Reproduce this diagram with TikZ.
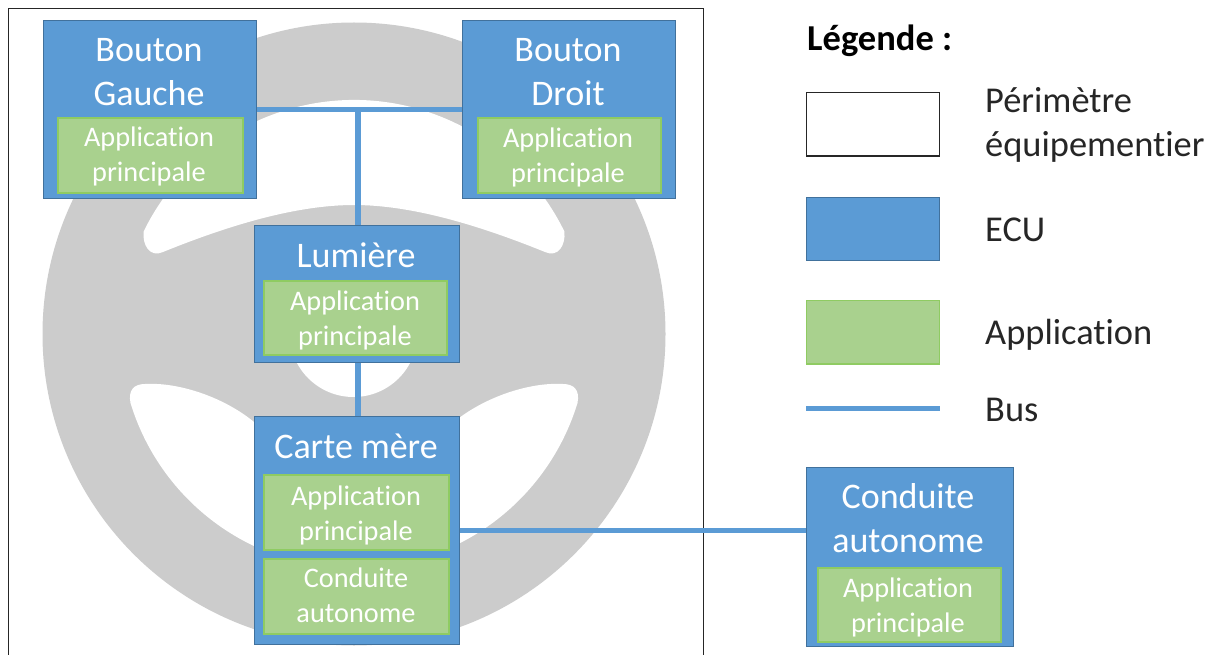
\documentclass[tikz,border=0pt]{standalone}
\usepackage{fontspec}
\setmainfont{Carlito}[Ligatures=NoCommon]
\definecolor{ecublue}{HTML}{5B9BD5}
\definecolor{ecuedge}{HTML}{41719C}
\definecolor{appgreen}{HTML}{A9D18E}
\definecolor{appedge}{HTML}{8FCB62}
\definecolor{wheelgrey}{HTML}{CCCCCC}
\tikzset{
  ecubox/.style={draw=ecuedge,fill=ecublue,line width=1pt,inner sep=0pt},
  appbox/.style={draw=appedge,fill=appgreen,line width=1.4pt,inner sep=0pt},
  apptext/.style={text=white,align=center,inner sep=0pt,font=\fontsize{28.3}{35}\selectfont},
  ecutext/.style={text=white,align=center,inner sep=0pt,font=\fontsize{36}{43.5}\selectfont},
  legtext/.style={anchor=west,align=left,inner sep=0pt,text=black!85,font=\fontsize{36.4}{44}\selectfont},
  bus/.style={draw=ecublue,line width=5.2pt},
  hole/.style={fill=white,draw=none},
}
\begin{document}
\begin{tikzpicture}[x=1pt,y=-1pt]
\useasboundingbox (0,0) rectangle (1218,655);
\fill[white] (0,0) rectangle (1218,655);
\begin{scope}
\clip (0,0) rectangle (1218,655);
% frame
\draw[black!85,line width=1.5pt,fill=white] (8.5,670) -- (8.5,8.5) -- (703.5,8.5) -- (703.5,670);
% steering wheel
\fill[wheelgrey] (354,334) circle[radius=311.5];
\fill[hole] (143.7,231.4) arc[start angle=206,end angle=334,radius=234]
  .. controls (566,245) and (558,258) .. (545,252)
  .. controls (476,224) and (410,205) .. (354,205)
  .. controls (298,205) and (232,224) .. (163,252)
  .. controls (150,258) and (142,245) .. cycle;
\fill[hole] (353.5,333) circle[radius=64];
\fill[hole] (130.5,403) arc[start angle=163,end angle=113,radius=234]
  -- (262.6,430) -- (254,422)
  .. controls (225,398) and (180,382) .. (145,384)
  .. controls (134,384) and (128,390) .. cycle;
\fill[hole] (577.5,403) arc[start angle=17,end angle=67,radius=234]
  -- (445.4,430) -- (454,422)
  .. controls (483,398) and (528,382) .. (563,384)
  .. controls (574,384) and (580,390) .. cycle;
\end{scope}
% ECUs
\node[ecubox,minimum width=213.5pt,minimum height=177.5pt] (bg) at (150,109.7) {};
\node[ecubox,minimum width=213.5pt,minimum height=177.5pt] (bd) at (569,109.7) {};
\node[ecubox,minimum width=205pt,minimum height=136.5pt] (lum) at (356.5,294) {};
\node[ecubox,minimum width=205pt,minimum height=227.5pt] (cm) at (356.5,530.3) {};
\node[ecubox,minimum width=207pt,minimum height=178.5pt] (ca) at (909.5,557) {};
% ECU titles
\node[ecutext] (tbg) at (149,72) {Bouton\\Gauche};
\node[ecutext] (tbd) at (568,72) {Bouton\\Droit};
\node[ecutext] (tlum) at (356,255.5) {Lumière};
\node[ecutext] (tcm) at (356,446) {Carte mère};
\node[ecutext] (tca) at (908,518) {Conduite\\autonome};
% applications
\node[appbox,minimum width=185pt,minimum height=75pt] (abg) at (150.5,155.5) {};
\node[apptext] (xbg) at (149,156.5) {Application\\principale};
\node[appbox,minimum width=183pt,minimum height=75pt] (abd) at (569.5,155.5) {};
\node[apptext] (xbd) at (568,157) {Application\\principale};
\node[appbox,minimum width=183pt,minimum height=74pt] (alum) at (355.5,318) {};
\node[apptext] (xlum) at (355,320) {Application\\principale};
\node[appbox,minimum width=185pt,minimum height=75pt] (acm1) at (356.5,512.5) {};
\node[apptext] (xcm1) at (356,515.5) {Application\\principale};
\node[appbox,minimum width=185pt,minimum height=75pt] (acm2) at (356.5,596.5) {};
\node[apptext] (xcm2) at (356,595.5) {Conduite\\autonome};
\node[appbox,minimum width=183pt,minimum height=74pt] (aca) at (909.5,605) {};
\node[apptext] (xca) at (908,607) {Application\\principale};
% buses
\coordinate (j) at (358,109.7);
\draw[bus] (bg.east) -- (bd.west);
\draw[bus] (j) -- (j |- lum.north);
\draw[bus] (j |- lum.south) -- (j |- cm.north);
\draw[bus] (cm.east) -- (cm.east -| ca.west);
% legend
\node[anchor=west,inner sep=0pt,text=black,font=\fontsize{36.5}{40}\selectfont\bfseries] (lt) at (807,41) {Légende :};
\node[draw=black!85,fill=white,line width=1.2pt,minimum width=133.5pt,minimum height=63.5pt,inner sep=0pt] (l1) at (873,124.2) {};
\node[ecubox,minimum width=133.5pt,minimum height=63.5pt] (l2) at (873,229.2) {};
\node[appbox,minimum width=133.5pt,minimum height=63.5pt] (l3) at (873,332.2) {};
\coordinate (l4a) at (806,408.7);
\coordinate (l4b) at (940,408.7);
\draw[bus] (l4a) -- (l4b);
\node[legtext] (t1) at (985,125) {Périmètre\\équipementier};
\node[legtext] (t2) at (985,230) {ECU};
\node[legtext] (t3) at (985,334.5) {Application};
\node[legtext] (t4) at (985,410) {Bus};
\end{tikzpicture}
\end{document}
